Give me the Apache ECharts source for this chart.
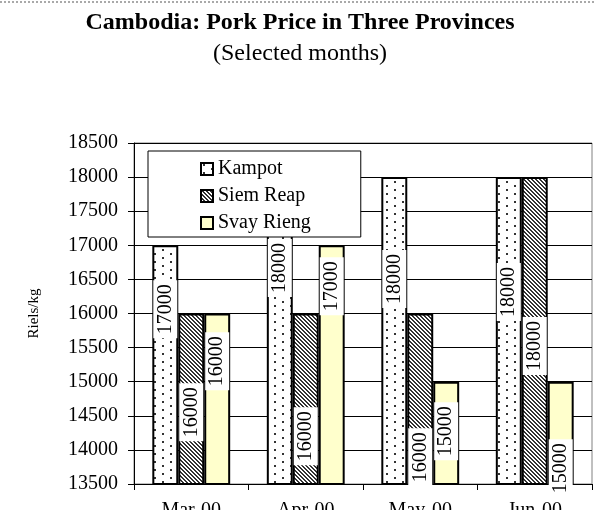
<!DOCTYPE html>
<html><head><meta charset="utf-8">
<script src="https://cdn.jsdelivr.net/npm/echarts@6/dist/echarts.min.js"></script>
<style>html,body{margin:0;padding:0;background:#fff}#c{width:594px;height:510px}</style>
</head><body><div id="c"></div>
<script>
// ---- data ----
const categories = ['Mar-00', 'Apr-00', 'May-00', 'Jun-00'];
const seriesNames = ['Kampot', 'Siem Reap', 'Svay Rieng'];
const kampot = [17000, 18000, 18000, 18000];
const siemReap = [16000, 16000, 16000, 18000];
const svayRieng = [16000, 17000, 15000, 15000];
const yMin = 13500, yMax = 18500, yStep = 500;
const titleText = 'Cambodia: Pork Price in Three Provinces';
const subtitleText = '(Selected months)';
const yName = 'Riels/kg';

// ---- styling (label nudges in px, downward, from bar centre) ----
const labelShift = [
  [-56, -63, -52, -39],
  [13, 37, 58, 15],
  [-38, -79, -2, 35]
];
const FONT = '"Liberation Serif", "Times New Roman", serif';

function dotPattern() {
  const c = document.createElement('canvas'); c.width = 16; c.height = 8;
  const g = c.getContext('2d');
  g.fillStyle = '#fff'; g.fillRect(0, 0, 16, 8);
  g.fillStyle = '#333';
  g.fillRect(2, 1, 2, 2); g.fillRect(10, 5, 2, 2);
  return { image: c, repeat: 'repeat' };
}
function hatchPattern() {
  const c = document.createElement('canvas'); c.width = 4; c.height = 4;
  const g = c.getContext('2d');
  g.fillStyle = '#fff'; g.fillRect(0, 0, 4, 4);
  g.fillStyle = '#333';
  for (let i = 0; i < 4; i++) { g.fillRect(i, i, 1, 1); g.fillRect((i + 1) % 4, i, 1, 1); }
  return { image: c, repeat: 'repeat' };
}
const fills = [dotPattern(), hatchPattern(), '#FFFFCC'];
const values = [kampot, siemReap, svayRieng];

const chart = echarts.init(document.getElementById('c'), null, { renderer: 'canvas' });
chart.setOption({
  animation: false,
  backgroundColor: '#fff',
  graphic: [
    { type: 'line', shape: { x1: 0, y1: 2, x2: 594, y2: 2 }, style: { stroke: '#555', lineWidth: 1, lineDash: [2, 2] } },
    { type: 'text', x: 300, y: 11, style: { text: titleText, font: 'bold 24px ' + FONT, fill: '#000', textAlign: 'center' } },
    { type: 'text', x: 300, y: 42, style: { text: subtitleText, font: '24px ' + FONT, fill: '#000', textAlign: 'center' } }
  ],
  legend: {
    orient: 'vertical', left: 148, top: 151,
    padding: [8, 50, 4, 52],
    itemWidth: 12, itemHeight: 12, itemGap: 7,
    backgroundColor: '#fff', borderColor: '#000', borderWidth: 1,
    textStyle: { fontFamily: FONT, fontSize: 20, color: '#000' },
    icon: 'rect',
    data: seriesNames
  },
  grid: { left: 134, right: 2, top: 143, bottom: 26, show: true, borderColor: '#808080', borderWidth: 1, outerBoundsMode: 'none' },
  xAxis: {
    type: 'category', data: categories,
    axisLine: { lineStyle: { color: '#000', width: 1 } },
    axisTick: { show: true, length: 6, lineStyle: { color: '#000' } },
    axisLabel: { fontFamily: FONT, fontSize: 20, color: '#000', margin: 17 },
    splitLine: { show: false }
  },
  yAxis: {
    type: 'value', min: yMin, max: yMax, interval: yStep,
    name: yName, nameLocation: 'middle', nameGap: 92, nameRotate: 90,
    nameTextStyle: { fontFamily: FONT, fontSize: 15, color: '#000' },
    axisLine: { show: true, lineStyle: { color: '#000', width: 1 } },
    axisTick: { show: true, length: 6, lineStyle: { color: '#000' } },
    axisLabel: { fontFamily: FONT, fontSize: 20, color: '#000', margin: 16, formatter: v => String(v) },
    splitLine: { show: true, lineStyle: { color: '#000', width: 1 } }
  },
  series: seriesNames.map((n, i) => ({
    name: n, type: 'bar',
    barGap: '0%', barCategoryGap: '32%',
    itemStyle: { color: fills[i], borderColor: '#000', borderWidth: 2 },
    emphasis: { disabled: true },
    label: {
      show: true, position: 'inside', rotate: 90,
      fontFamily: FONT, fontSize: 20, color: '#000',
      backgroundColor: '#fff', padding: [2, 4]
    },
    // rotated label: local x axis points up the screen, so a downward shift d is [-d, 0]
    data: values[i].map((v, j) => ({ value: v, label: { offset: [-labelShift[i][j], 0] } }))
  }))
});
</script>
</body></html>
